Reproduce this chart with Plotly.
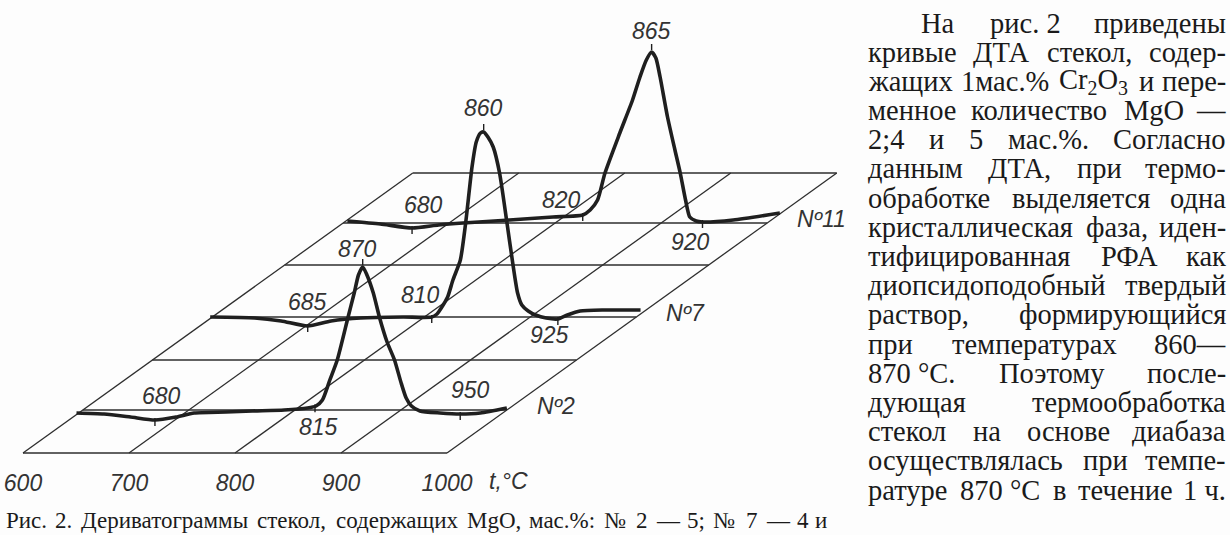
import re
import numpy as np
import plotly.graph_objects as go

# ---------------- data ----------------
row_names = ["N\u00ba2", "N\u00ba7", "N\u00ba11"]
row_depth = [43, 136, 230]                      # depth of each row baseline
grid_depths = [0, 43, 93, 136, 188, 230, 280]    # horizontal grid lines (depth)
grid_temps = [600, 700, 800, 900, 1000]          # temperature grid lines
tick_labels = ["600", "700", "800", "900", "1000"]

# DTA curves: temperature (deg C) and signal (relative units)
t_2 = [594, 620, 645, 668, 688, 705, 735, 760, 790, 812, 820, 826, 833, 840, 850,
       856, 860, 864, 868, 874, 880, 887, 894, 900, 905, 910, 918, 937, 956, 975, 1000]
a_2 = [-3, -4, -7, -10, -7, -3, -2, -1, 0, 2, 4, 10, 30, 50, 92,
       117, 135, 143, 135, 117, 92, 68, 50, 28, 12, 4, -1, -3, -4, -3, 2]

t_7 = [598, 640, 665, 690, 712, 740, 780, 807, 812, 816, 822, 827, 834, 839, 845,
       849, 853, 856, 860, 865, 871, 878, 883, 888, 892, 898, 905, 915, 926, 935, 947, 970, 1004]
a_7 = [0, -1, -4, -9, -4, -1, 0, 0, 3, 9, 20, 37, 57, 94, 150,
       175, 184, 185, 180, 170, 144, 94, 57, 24, 12, 6, 2, -1, -2, 2, 6, 7, 7]

t_11 = [604, 635, 665, 690, 713, 757, 798, 826, 833, 840, 847, 861, 873, 880, 886,
        891, 895, 899, 906, 913, 918, 923, 927, 933, 939, 968, 1012]
a_11 = [2, -1, -5, -2, 0, 3, 6, 8, 13, 23, 50, 90, 123, 146, 163,
        171, 165, 146, 106, 73, 50, 23, 6, 2, 1, 3, 10]

curves_t = [t_2, t_7, t_11]
curves_a = [a_2, a_7, a_11]

# marked temperatures on each curve (position) and their labels
marks_t = [[668, 819, 956], [690, 807, 926], [665, 826, 939]]
marks_lbl = [["680", "815", "950"], ["685", "810", "925"], ["680", "820", "920"]]
peaks_t = [864, 856, 891]
peaks_lbl = ["870", "860", "865"]

# ---------------- geometry / style ----------------
W_FIG, H_FIG = 1230, 535
B_MARG = 68
PH = H_FIG - B_MARG
PX_PER_DEG = 1.06
SHEAR = 1.392 / PX_PER_DEG          # x shift (deg) per unit of depth
X0 = 600 - 23 / PX_PER_DEG
XR = [X0, X0 + W_FIG / PX_PER_DEG]
YR = [453 - PH, 453]

INK = "#1f1f1f"
GRID = "#2e2e2e"
LBL_FONT = dict(family="Liberation Sans Narrow, Liberation Sans, Arial Narrow, sans-serif",
                size=23, color="#333333", style="italic")


def proj(t, a, d):
    return np.asarray(t, float) + SHEAR * d, d + np.asarray(a, float)


fig = go.Figure()

# grid
gx, gy = [], []
for d in grid_depths:
    xs, ys = proj([grid_temps[0], grid_temps[-1]], [0, 0], d)
    gx += list(xs) + [None]
    gy += list(ys) + [None]
for t in grid_temps:
    gx += [t + SHEAR * grid_depths[0], t + SHEAR * grid_depths[-1], None]
    gy += [grid_depths[0], grid_depths[-1], None]
fig.add_trace(go.Scatter(x=gx, y=gy, mode="lines", line=dict(color=GRID, width=1.3),
                         hoverinfo="skip"))

# curves
for ts, As, d, nm in zip(curves_t, curves_a, row_depth, row_names):
    xs, ys = proj(ts, As, d)
    fig.add_trace(go.Scatter(x=xs, y=ys, mode="lines", name=nm,
                             line=dict(color=INK, width=3.6, shape="spline", smoothing=0.6)))

# little marks
mx, my = [], []
for ts, As, d, mk, pk in zip(curves_t, curves_a, row_depth, marks_t, peaks_t):
    for t in mk:
        a = float(np.interp(t, ts, As))
        xs, ys = proj([t, t], [a - 6, a + 2], d)
        mx += list(xs) + [None]
        my += list(ys) + [None]
    a = float(np.interp(pk, ts, As))
    xs, ys = proj([pk, pk], [a + 2, a + 8], d)
    mx += list(xs) + [None]
    my += list(ys) + [None]
fig.add_trace(go.Scatter(x=mx, y=my, mode="lines", line=dict(color=INK, width=1.4),
                         hoverinfo="skip"))

# value labels (offsets in px from the mark)
mark_off = [[(7, 24), (3, -21), (10, 24)],
            [(0, 24), (-11, 22), (-8, -16)],
            [(11, 23), (-21, 15), (-12, -20)]]
peak_off = [(-5, 18), (0, 24), (0, 21)]
for i in range(3):
    ts, As, d = curves_t[i], curves_a[i], row_depth[i]
    for t, lbl, (dx, dy) in zip(marks_t[i], marks_lbl[i], mark_off[i]):
        a = float(np.interp(t, ts, As))
        xs, ys = proj(t, a, d)
        fig.add_annotation(x=float(xs), y=float(ys), text=lbl, showarrow=False,
                           xshift=dx, yshift=dy, font=LBL_FONT)
    a = float(np.interp(peaks_t[i], ts, As))
    xs, ys = proj(peaks_t[i], a, d)
    dx, dy = peak_off[i]
    fig.add_annotation(x=float(xs), y=float(ys), text=peaks_lbl[i], showarrow=False,
                       xshift=dx, yshift=dy, font=LBL_FONT)
    # row name at the right end of the row
    xs, ys = proj(grid_temps[-1], 0, d)
    fig.add_annotation(x=float(xs), y=float(ys), text=row_names[i], showarrow=False,
                       xanchor="left", xshift=28, yshift=4, font=LBL_FONT)

# axis unit
fig.add_annotation(x=grid_temps[-1], y=0, text="t,\u00b0C", showarrow=False,
                   xshift=61, yshift=-28, font=LBL_FONT)

# ---------------- surrounding page text ----------------
EM = {}
for ch, w in zip("абвгдежзийклмнопрстуфхцчшщъыьэюя",
                 [.444, .509, .472, .41, .509, .444, .691, .395, .535, .535, .486, .499, .633, .535, .5,
                  .535, .5, .444, .437, .5, .648, .5, .535, .503, .77, .77, .5, .672, .456, .434, .722, .479]):
    EM[ch] = w
EM.update({"Р": .556, "Д": .67, "Т": .61, "А": .72, "П": .72, "С": .667, "Ф": .75, "Н": .72,
           "M": .89, "g": .5, "O": .72, "C": .667, "r": .333, ".": .25, ",": .25, ";": .278,
           ":": .278, "%": .833, "\u2014": 1.0, "-": .333, "\u00b0": .4, " ": .25, "\u00a0": .25,
           "\u2116": 1.05})


def text_w(s, size):
    s2 = re.sub(r"<sub>(.*?)</sub>", lambda m: "\x01" * len(m.group(1)), s)
    w = 0.0
    for ch in s2:
        if ch == "\x01":
            w += .38
        elif ch.isdigit():
            w += .5
        else:
            w += EM.get(ch, .5)
    return w * size


def px2paper(x, y):
    return x / W_FIG, (PH - y) / PH


def justified(words, xl, xr, y, size, fam, color="#1a1a1a"):
    ws = [text_w(w, size) for w in words]
    gap = (xr - xl - sum(ws)) / max(len(words) - 1, 1)
    x = xl
    for i, (w, wd) in enumerate(zip(words, ws)):
        if i == len(words) - 1 and len(words) > 1:
            px, py = px2paper(xr, y)
            anchor = "right"
        else:
            px, py = px2paper(x, y)
            anchor = "left"
        fig.add_annotation(x=px, y=py, xref="paper", yref="paper", text=w, showarrow=False,
                           xanchor=anchor, yanchor="middle", borderpad=0,
                           font=dict(family=fam, size=size, color=color))
        x += wd + gap


body = [
    ["На", "рис.\u00a02", "приведены"],
    ["кривые", "ДТА", "стекол,", "содер-"],
    ["жащих", "1мас.%", "Cr<sub>2</sub>O<sub>3</sub>", "и", "пере-"],
    ["менное", "количество", "MgO", "\u2014"],
    ["2;4", "и", "5", "мас.%.", "Согласно"],
    ["данным", "ДТА,", "при", "термо-"],
    ["обработке", "выделяется", "одна"],
    ["кристаллическая", "фаза,", "иден-"],
    ["тифицированная", "РФА", "как"],
    ["диопсидоподобный", "твердый"],
    ["раствор,", "формирующийся"],
    ["при", "температурах", "860\u2014"],
    ["870\u00a0\u00b0C.", "Поэтому", "после-"],
    ["дующая", "термообработка"],
    ["стекол", "на", "основе", "диабаза"],
    ["осуществлялась", "при", "темпе-"],
    ["ратуре", "870\u00a0\u00b0C", "в", "течение", "1\u00a0ч."],
]
SERIF = "Liberation Serif, Times New Roman, serif"
for i, words in enumerate(body):
    xl = 920 if i == 0 else 867
    justified(words, xl, 1227, 23 + 29.19 * i, 28.5, SERIF)

caption = "Рис. 2. Дериватограммы стекол, содержащих MgO, мас.%: \u2116 2 \u2014 5; \u2116 7 \u2014 4 и"
justified(caption.split(" "), 5, 828, 520, 23, SERIF)

fig.update_layout(
    width=W_FIG, height=H_FIG,
    margin=dict(l=0, r=0, t=0, b=B_MARG, pad=0),
    paper_bgcolor="#fdfdfd", plot_bgcolor="#fdfdfd",
    showlegend=False,
    xaxis=dict(range=XR, showgrid=False, zeroline=False, showline=False,
               tickmode="array", tickvals=grid_temps, ticktext=tick_labels, ticks="",
               tickfont=LBL_FONT, fixedrange=True),
    yaxis=dict(range=YR, visible=False, fixedrange=True),
)

fig.write_html("out.html", config={"displayModeBar": False, "staticPlot": True},
               post_script="document.body.style.margin='0';document.body.style.overflow='hidden';")
